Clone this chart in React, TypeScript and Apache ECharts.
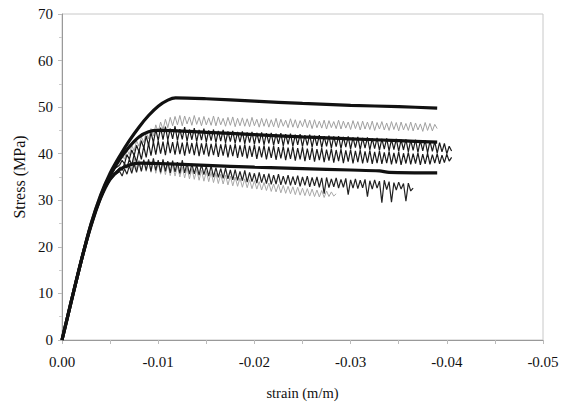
import React, { useEffect, useRef } from "react";
import * as echarts from "echarts";

// shared strain grid for the measured (noisy) curves
const strainGrid = [
  0, -0.0005, -0.001, -0.0015, -0.002, -0.0025, -0.003, -0.0035, -0.004, -0.0045, -0.005, -0.0055, -0.006,
  -0.00625, -0.0065, -0.00675, -0.007, -0.00725, -0.0075, -0.00775, -0.008, -0.00825, -0.0085,
  -0.00875, -0.009, -0.00925, -0.0095, -0.00975, -0.01, -0.01025, -0.0105, -0.01075, -0.011,
  -0.01125, -0.0115, -0.01175, -0.012, -0.01225, -0.0125, -0.01275, -0.013, -0.01325, -0.0135,
  -0.01375, -0.014, -0.01425, -0.0145, -0.01475, -0.015, -0.01525, -0.0155, -0.01575, -0.016,
  -0.01625, -0.0165, -0.01675, -0.017, -0.01725, -0.0175, -0.01775, -0.018, -0.01825, -0.0185,
  -0.01875, -0.019, -0.01925, -0.0195, -0.01975, -0.02, -0.02025, -0.0205, -0.02075, -0.021,
  -0.02125, -0.0215, -0.02175, -0.022, -0.02225, -0.0225, -0.02275, -0.023, -0.02325, -0.0235,
  -0.02375, -0.024, -0.02425, -0.0245, -0.02475, -0.025, -0.02525, -0.0255, -0.02575, -0.026,
  -0.02625, -0.0265, -0.02675, -0.027, -0.02725, -0.0275, -0.02775, -0.028, -0.02825, -0.0285,
  -0.02875, -0.029, -0.02925, -0.0295, -0.02975, -0.03, -0.03025, -0.0305, -0.03075, -0.031,
  -0.03125, -0.0315, -0.03175, -0.032, -0.03225, -0.0325, -0.03275, -0.033, -0.03325, -0.0335,
  -0.03375, -0.034, -0.03425, -0.0345, -0.03475, -0.035, -0.03525, -0.0355, -0.03575, -0.036,
  -0.03625, -0.0365, -0.03675, -0.037, -0.03725, -0.0375, -0.03775, -0.038, -0.03825, -0.0385,
  -0.03875, -0.039, -0.03925, -0.0395, -0.03975, -0.04, -0.04025, -0.0405,
];

// measured curves (stress, MPa)
const grayUpper = [
  0, 4.8, 9.4, 13.8, 18.0, 22.0, 25.6, 28.8, 31.6, 34.0, 35.8, 37.4, 38.6,
  39.6, 38.8, 40.8, 39.8, 41.8, 40.6, 42.8, 41.6, 43.6, 42.4,
  44.6, 43.2, 45.4, 43.8, 46.2, 44.6, 46.8, 45.2, 47.4, 45.6,
  47.8, 46.0, 48.0, 46.2, 48.2, 46.0, 48.1, 46.4, 47.9, 46.1,
  48.2, 46.3, 47.8, 46.0, 48.0, 46.2, 47.7, 46.1, 48.1, 46.0,
  47.9, 46.2, 47.6, 45.9, 47.8, 46.1, 47.9, 45.8, 47.6, 46.0,
  47.7, 45.9, 47.5, 45.8, 47.8, 46.0, 47.4, 45.7, 47.6, 45.9,
  47.5, 45.7, 47.3, 45.8, 47.6, 45.6, 47.4, 45.9, 47.2, 45.6,
  47.5, 45.7, 47.3, 45.5, 47.1, 45.8, 47.4, 45.6, 47.2, 45.4,
  47.3, 45.6, 47.0, 45.5, 47.2, 45.3, 47.1, 45.6, 46.9, 45.4,
  47.2, 45.3, 47.0, 45.5, 46.8, 45.2, 47.1, 45.4, 46.9, 45.1,
  47.0, 45.3, 46.8, 45.2, 47.0, 45.0, 46.7, 45.3, 46.9, 45.1,
  46.6, 45.0, 46.9, 45.2, 46.7, 44.9, 46.8, 45.1, 46.5, 45.0,
  46.8, 44.9, 46.6, 45.1, 46.4, 44.8, 46.7, 45.0, 46.5, 44.9,
  46.3, 45.4,
];
const darkUpper = [
  0, 4.4, 8.8, 13.0, 17.2, 21.0, 24.8, 28.0, 30.8, 33.4, 35.0, 36.8, 37.6,
  38.6, 37.8, 39.8, 38.8, 40.8, 39.6, 41.8, 40.4, 42.8, 41.2,
  43.8, 41.8, 44.6, 42.4, 45.2, 42.8, 45.6, 43.0, 45.8, 42.9,
  45.4, 43.2, 45.9, 42.8, 45.3, 43.1, 45.7, 42.7, 45.2, 43.0,
  45.5, 42.6, 45.1, 42.9, 45.4, 42.5, 45.0, 42.8, 45.2, 42.4,
  44.9, 42.7, 45.1, 42.3, 44.8, 42.6, 44.9, 42.2, 44.7, 42.5,
  44.8, 42.1, 44.6, 42.4, 44.7, 42.0, 44.5, 42.3, 44.6, 41.9,
  44.4, 42.2, 44.5, 41.8, 44.3, 42.1, 44.4, 41.7, 44.2, 42.0,
  44.3, 41.6, 44.1, 41.9, 44.2, 41.5, 44.0, 41.8, 44.1, 41.4,
  43.9, 41.7, 44.0, 41.3, 43.8, 41.6, 43.9, 41.2, 43.7, 41.5,
  43.8, 41.1, 43.6, 41.4, 43.7, 41.0, 43.5, 41.3, 43.6, 40.9,
  43.4, 41.2, 43.5, 40.8, 43.3, 41.1, 43.4, 40.7, 43.2, 41.0,
  43.3, 40.6, 43.1, 40.9, 43.2, 40.5, 43.0, 40.8, 43.1, 40.4,
  42.9, 40.7, 43.0, 40.3, 42.8, 40.6, 42.9, 40.2, 42.7, 40.5,
  42.6, 40.1, 42.4, 40.4, 42.2, 40.0, 41.6, 40.6,
];
const darkMiddle = [
  0, 4.2, 8.4, 12.6, 16.8, 20.6, 24.2, 27.4, 30.2, 32.6, 34.4, 35.8, 37.0,
  36.4, 37.8, 37.0, 38.8, 37.6, 39.8, 38.2, 40.8, 38.8, 41.6,
  39.2, 42.2, 39.6, 42.6, 39.8, 42.8, 40.0, 42.6, 39.7, 42.9,
  40.1, 42.5, 39.8, 42.7, 39.9, 42.4, 39.6, 42.6, 40.0, 42.3,
  39.7, 42.5, 39.5, 42.2, 39.8, 42.4, 39.4, 42.1, 39.7, 42.3,
  39.3, 42.0, 39.6, 42.2, 39.2, 41.9, 39.5, 42.1, 39.1, 41.8,
  39.4, 42.0, 39.0, 41.7, 39.3, 41.9, 38.9, 41.6, 39.2, 41.8,
  38.8, 41.5, 39.1, 41.7, 38.7, 41.4, 39.0, 41.6, 38.6, 41.3,
  38.9, 41.5, 38.5, 41.2, 38.8, 41.4, 38.4, 41.1, 38.7, 41.3,
  38.3, 41.0, 38.6, 41.2, 38.2, 40.9, 38.5, 41.1, 38.1, 40.8,
  38.4, 41.0, 38.0, 40.7, 38.3, 40.9, 37.9, 40.6, 38.2, 40.8,
  37.9, 40.5, 38.1, 40.7, 37.8, 40.4, 38.0, 40.6, 37.8, 40.3,
  38.0, 40.5, 37.7, 40.2, 37.9, 40.4, 37.6, 40.1, 37.9, 40.3,
  37.7, 40.0, 37.9, 40.2, 37.6, 39.9, 37.8, 40.1, 37.7, 39.8,
  38.0, 40.0, 37.8, 39.7, 38.1, 39.9, 38.4, 39.2,
];
const darkLower = [
  0, 4.4, 8.6, 12.8, 17.0, 20.8, 24.4, 27.6, 30.4, 32.6, 34.4, 35.4, 36.2,
  35.2, 36.8, 35.6, 37.4, 35.8, 37.8, 36.0, 38.2, 36.2, 38.6,
  36.4, 38.8, 36.2, 39.0, 36.4, 38.6, 36.0, 38.8, 36.2, 38.4,
  35.9, 38.5, 36.1, 38.2, 35.8, 38.6, 35.9, 38.0, 35.6, 37.8,
  35.7, 37.6, 35.4, 37.7, 35.5, 37.3, 35.2, 37.4, 35.0, 37.0,
  34.9, 36.8, 34.7, 36.9, 34.6, 36.5, 34.4, 36.6, 34.3, 36.2,
  34.2, 36.4, 33.9, 36.0, 34.0, 35.8, 33.7, 36.0, 33.8, 35.6,
  33.6, 35.7, 33.4, 35.4, 33.5, 35.6, 33.3, 35.2, 33.4, 35.4,
  33.2, 35.1, 33.3, 35.3, 33.0, 35.0, 33.2, 35.2, 32.9, 34.9,
  33.1, 35.0, 32.8, 34.8, 31.4, 34.9, 32.7, 34.6, 32.9, 34.8,
  32.6, 34.5, 32.8, 34.7, 31.2, 34.4, 32.6, 34.6, 32.5, 34.3,
  32.7, 34.5, 30.8, 34.2, 32.4, 34.4, 32.6, 34.1, 29.5, 34.3,
  32.3, 34.0, 29.6, 33.8, 32.2, 33.9, 32.4, 33.6, 29.8, 33.7,
  32.0, 32.6,
];
const grayLower = [
  0, 4.6, 9.0, 13.4, 17.6, 21.4, 25.0, 28.2, 31.2, 33.6, 35.4, 36.8, 37.4,
  36.6, 38.2, 36.8, 38.8, 36.6, 39.0, 36.8, 38.6, 36.4, 38.8,
  36.2, 38.4, 36.0, 38.6, 35.8, 38.2, 35.6, 38.0, 35.5, 37.8,
  35.3, 37.6, 35.2, 37.4, 35.0, 37.2, 34.8, 37.0, 34.6, 36.8,
  34.5, 36.6, 34.3, 36.4, 34.1, 36.2, 34.0, 36.0, 33.8, 35.8,
  33.6, 35.6, 33.5, 35.4, 33.3, 35.2, 33.1, 35.0, 33.0, 34.8,
  32.8, 34.6, 32.7, 34.4, 32.5, 34.2, 32.4, 34.0, 32.2, 33.8,
  32.1, 33.7, 31.9, 33.5, 31.8, 33.4, 31.6, 33.2, 31.5, 33.0,
  31.4, 32.9, 31.2, 32.8, 31.1, 32.6, 31.0, 32.5, 30.9, 32.4,
  30.8, 32.2, 30.7, 32.1, 30.6, 32.0, 30.8, 31.8, 30.9, 31.4,
];

// model curves
const modelHighStrain = [0, -0.001, -0.002, -0.003, -0.004, -0.005, -0.006, -0.007, -0.008, -0.009, -0.01, -0.011, -0.0118, -0.015, -0.02, -0.025, -0.03, -0.035, -0.039];
const modelHighStress = [0, 8.6, 17, 24.8, 31, 35.8, 39.5, 42.8, 45.7, 48.2, 50.2, 51.5, 52, 51.8, 51.3, 50.8, 50.4, 50.1, 49.8];
const modelMidStrain = [0, -0.001, -0.002, -0.003, -0.004, -0.005, -0.006, -0.007, -0.008, -0.009, -0.01, -0.015, -0.02, -0.025, -0.03, -0.035, -0.039];
const modelMidStress = [0, 8.6, 17, 24.6, 30.6, 35.3, 38.8, 41.5, 43.6, 44.7, 45, 44.6, 44.1, 43.6, 43.2, 42.8, 42.5];
const modelLowStrain = [0, -0.001, -0.002, -0.003, -0.004, -0.005, -0.006, -0.007, -0.008, -0.01, -0.015, -0.02, -0.025, -0.03, -0.033, -0.034, -0.039];
const modelLowStress = [0, 8.6, 17, 24.4, 30.4, 34.5, 36.6, 37.6, 38, 37.9, 37.5, 37.1, 36.8, 36.5, 36.3, 36.0, 35.9];

const xTicks = { min: -0.05, max: 0, interval: 0.01 };
const yTicks = { min: 0, max: 70, interval: 10 };

const pairs = (xs: number[], ys: number[]) => ys.map((y, i) => [xs[i], y]);

export default function App() {
  const ref = useRef<HTMLDivElement>(null);
  useEffect(() => {
    const chart = echarts.init(ref.current!, undefined, { renderer: "svg" });
    const font = "Liberation Serif";
    const noisy = (data: number[], color: string, width: number) => ({
      type: "line",
      data: pairs(strainGrid, data),
      showSymbol: false,
      symbol: "none",
      lineStyle: { color, width },
      z: 2,
    });
    const model = (xs: number[], ys: number[]) => ({
      type: "line",
      data: pairs(xs, ys),
      showSymbol: false,
      symbol: "none",
      smooth: 0.3,
      lineStyle: { color: "#111", width: 3.2 },
      z: 5,
    });
    chart.setOption({
      animation: false,
      backgroundColor: "#fff",
      grid: {
        left: 62, right: 23, top: 14, bottom: 65,
        show: true, borderColor: "#c8c8c8", borderWidth: 1,
      },
      xAxis: {
        type: "value",
        inverse: true,
        min: xTicks.min, max: xTicks.max, interval: xTicks.interval,
        name: "strain (m/m)",
        nameLocation: "middle",
        nameGap: 45,
        nameTextStyle: { fontFamily: font, fontSize: 14.5, color: "#111" },
        axisLine: { show: true, lineStyle: { color: "#999", width: 1 } },
        axisTick: { show: true, length: 4, lineStyle: { color: "#bbb" } },
        minorTick: { show: true, splitNumber: 2, length: 4, lineStyle: { color: "#bbb" } },
        splitLine: { show: false },
        axisLabel: {
          fontFamily: font, fontSize: 15, color: "#111", margin: 14,
          formatter: (v: number) => (Math.abs(v) < 1e-9 ? "0.00" : v.toFixed(2)),
        },
      },
      yAxis: {
        type: "value",
        min: yTicks.min, max: yTicks.max, interval: yTicks.interval,
        name: "Stress (MPa)",
        nameLocation: "middle",
        nameGap: 29,
        nameTextStyle: { fontFamily: font, fontSize: 16, color: "#111" },
        axisLine: { show: true, lineStyle: { color: "#999", width: 1 } },
        axisTick: { show: true, length: 4, lineStyle: { color: "#bbb" } },
        minorTick: { show: true, splitNumber: 2, length: 3, lineStyle: { color: "#ccc" } },
        splitLine: { show: false },
        axisLabel: { fontFamily: font, fontSize: 15, color: "#111", margin: 9 },
      },
      series: [
        noisy(grayLower, "#a8a8a8", 1),
        noisy(grayUpper, "#a0a0a0", 1),
        noisy(darkLower, "#222", 1.2),
        noisy(darkMiddle, "#1a1a1a", 1.2),
        noisy(darkUpper, "#1a1a1a", 1.2),
        model(modelLowStrain, modelLowStress),
        model(modelMidStrain, modelMidStress),
        model(modelHighStrain, modelHighStress),
      ],
    });
    return () => chart.dispose();
  }, []);
  return (
    <div
      ref={ref}
      style={{ position: "fixed", left: 0, top: 0, width: 566, height: 405, background: "#fff" }}
    />
  );
}
